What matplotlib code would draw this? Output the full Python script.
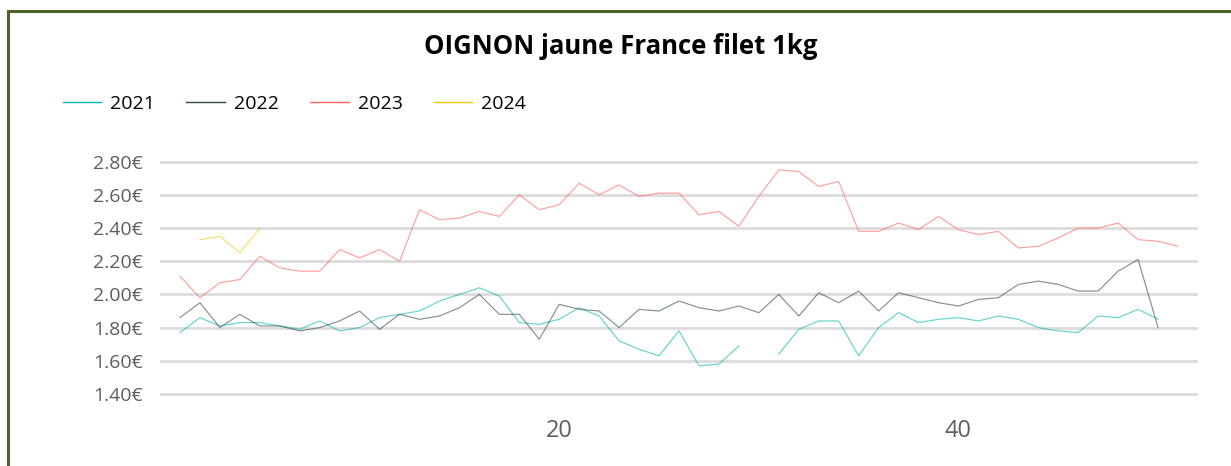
import matplotlib
matplotlib.use("Agg")
import matplotlib.pyplot as plt
from matplotlib.patches import Rectangle
from matplotlib.ticker import FuncFormatter
import numpy as np

nan = np.nan

weeks = list(range(1, 52))

prix_2021 = [1.77, 1.86, 1.81, 1.83, 1.83, 1.81, 1.79, 1.84, 1.78, 1.80,
             1.86, 1.88, 1.90, 1.96, 2.00, 2.04, 1.99, 1.83, 1.82, 1.85,
             1.92, 1.87, 1.72, 1.67, 1.63, 1.78, 1.57, 1.58, 1.69, nan,
             1.64, 1.79, 1.84, 1.84, 1.63, 1.80, 1.89, 1.83, 1.85, 1.86,
             1.84, 1.87, 1.85, 1.80, 1.78, 1.77, 1.87, 1.86, 1.91, 1.85, nan]

prix_2022 = [1.86, 1.95, 1.80, 1.88, 1.81, 1.81, 1.78, 1.80, 1.84, 1.90,
             1.79, 1.88, 1.85, 1.87, 1.92, 2.00, 1.88, 1.88, 1.73, 1.94,
             1.91, 1.90, 1.80, 1.91, 1.90, 1.96, 1.92, 1.90, 1.93, 1.89,
             2.00, 1.87, 2.01, 1.95, 2.02, 1.90, 2.01, 1.98, 1.95, 1.93,
             1.97, 1.98, 2.06, 2.08, 2.06, 2.02, 2.02, 2.14, 2.21, 1.80, nan]

prix_2023 = [2.11, 1.98, 2.07, 2.09, 2.23, 2.16, 2.14, 2.14, 2.27, 2.22,
             2.27, 2.20, 2.51, 2.45, 2.46, 2.50, 2.47, 2.60, 2.51, 2.54,
             2.67, 2.60, 2.66, 2.59, 2.61, 2.61, 2.48, 2.50, 2.41, 2.59,
             2.75, 2.74, 2.65, 2.68, 2.38, 2.38, 2.43, 2.39, 2.47, 2.39,
             2.36, 2.38, 2.28, 2.29, 2.34, 2.40, 2.40, 2.43, 2.33, 2.32, 2.29]

prix_2024 = [nan, 2.33, 2.35, 2.25, 2.40] + [nan] * 46

annees = ["2021", "2022", "2023", "2024"]
couleurs = ["#01B8AA", "#374649", "#FD625E", "#F2C80F"]
series = [prix_2021, prix_2022, prix_2023, prix_2024]

plt.rcParams["font.family"] = ["Open Sans", "DejaVu Sans"]

W, H = 1231, 466
fig = plt.figure(figsize=(W / 100, H / 100), dpi=100)

# cadre vert (seulement haut et gauche visibles)
fig.add_artist(Rectangle((7.5 / W, -0.1), 1.2, 1.1 - 10.5 / H, transform=fig.transFigure,
                         fill=False, edgecolor="#4F6228", linewidth=2.2))

ax = fig.add_axes([160 / W, 1 - 402.3 / H, 1038 / W, 249 / H])

for annee, couleur, valeurs in zip(annees, couleurs, series):
    ax.plot(weeks, valeurs, color=couleur, linewidth=0.85, alpha=0.6)

ax.set_xlim(0, 52)
ax.set_ylim(1.35, 2.85)
ax.set_yticks(np.arange(1.40, 2.81, 0.20))
ax.set_xticks([20, 40])
ax.yaxis.set_major_formatter(FuncFormatter(lambda v, p: f"{v:.2f}€"))

ax.grid(axis="y", color="#DCDCDC", linewidth=2)
ax.set_axisbelow(True)
for s in ax.spines.values():
    s.set_visible(False)
ax.tick_params(axis="y", length=0, labelsize=14, labelcolor="#605E5C", pad=12.5)
ax.tick_params(axis="x", length=0, labelsize=17, labelcolor="#605E5C", pad=12)

fig.text(621 / W, 1 - 47 / H, "OIGNON jaune France filet 1kg", ha="center", va="center",
         fontsize=18.5, fontweight="bold", color="#000000")

handles = [plt.Line2D([], [], color=c, linewidth=1) for c in couleurs]
fig.legend(handles, annees, loc="center left", bbox_to_anchor=(45 / W, 1 - 104 / H),
           ncol=4, frameon=False, fontsize=14, handlelength=2.0, handletextpad=0.45,
           columnspacing=1.6)

fig.savefig("out.png", dpi=100, facecolor="white")
